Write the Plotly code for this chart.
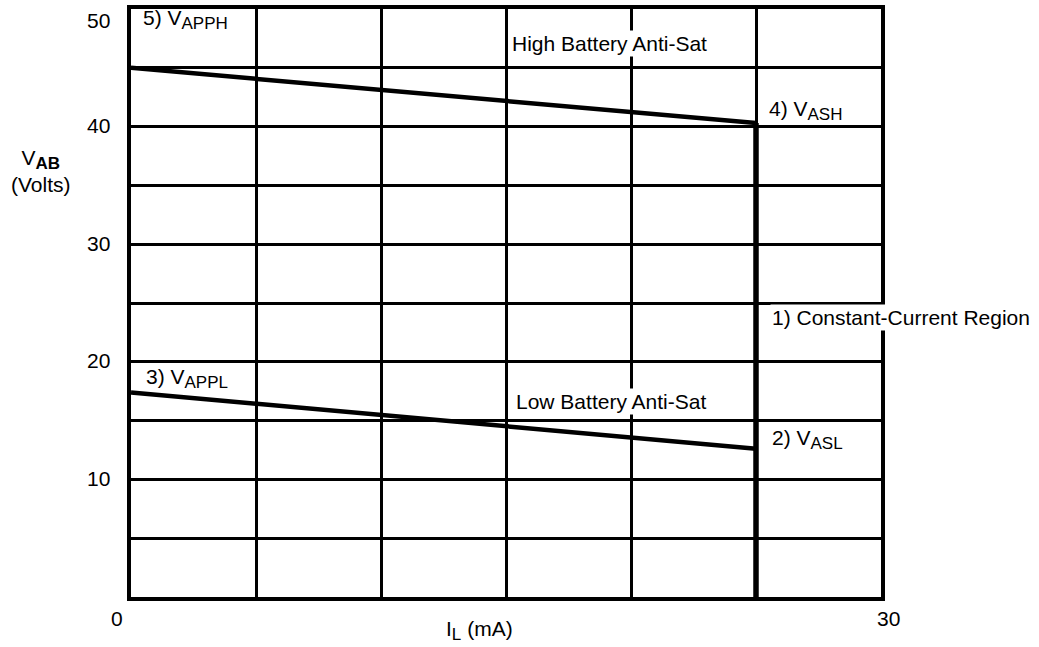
import plotly.graph_objects as go

# Data
x_ends = [0, 25]
high_anti_sat = [45, 40.3]
low_anti_sat = [17.4, 12.6]
cc_x = [25, 25]
cc_y = [-0.3, 40.3]
y_tick_vals = [10, 20, 30, 40, 50]
x_tick_vals = [0, 30]

FONT = "Liberation Sans, Arial, sans-serif"
FS = 21


def sub(s, bold=False):
    inner = f"<b>{s}</b>" if bold else s
    return f"<sub><span style='font-size:17px'>{inner}</span></sub>"


fig = go.Figure()
fig.add_trace(go.Scatter(x=x_ends, y=high_anti_sat, mode="lines",
                         line=dict(color="black", width=4.5), hoverinfo="skip", cliponaxis=False))
fig.add_trace(go.Scatter(x=x_ends, y=low_anti_sat, mode="lines",
                         line=dict(color="black", width=4.5), hoverinfo="skip", cliponaxis=False))
fig.add_trace(go.Scatter(x=cc_x, y=cc_y, mode="lines",
                         line=dict(color="black", width=5.5), hoverinfo="skip", cliponaxis=False))

ann = []
def txt(x, y, s, bg=None, xanchor="left"):
    d = dict(x=x, y=y, xref="x", yref="y", text=s, showarrow=False, xanchor=xanchor,
             yanchor="middle", font=dict(family=FONT, size=FS, color="black"))
    if bg:
        d["bgcolor"] = bg
        d["borderpad"] = 1
    ann.append(d)

txt(0.4, 49.1, "5) V" + sub("APPH"))
txt(15.15, 47.1, "High Battery Anti-Sat", bg="white")
txt(25.45, 41.4, "4) V" + sub("ASH"))
txt(25.55, 23.8, "1) Constant-Current Region", bg="white")
txt(0.5, 18.6, "3) V" + sub("APPL"))
txt(15.3, 16.6, "Low Battery Anti-Sat", bg="white")
txt(25.55, 13.4, "2) V" + sub("ASL"))

for v in y_tick_vals:
    ann.append(dict(x=0, y=v, xref="x", yref="y", text=str(v), showarrow=False,
                    xanchor="right", yanchor="middle", xshift=-19,
                    yshift=-11 if v == 50 else 1,
                    font=dict(family=FONT, size=FS, color="black")))
for v in x_tick_vals:
    ann.append(dict(x=v, y=0, xref="x", yref="paper", text=str(v), showarrow=False,
                    xanchor="center", yanchor="middle", xshift=-14 if v == 0 else 7,
                    yshift=-21, font=dict(family=FONT, size=FS, color="black")))

ann.append(dict(x=15, y=0, xref="x", yref="paper", text="I" + sub("L") + " (mA)", showarrow=False,
                xanchor="center", yanchor="middle", xshift=-27, yshift=-33,
                font=dict(family=FONT, size=FS, color="black")))
ann.append(dict(x=0, y=0.725, xref="paper", yref="paper", text="V" + sub("AB", bold=True) + "<br>(Volts)",
                showarrow=False, xanchor="center", yanchor="middle", xshift=-90,
                font=dict(family=FONT, size=FS, color="black")))

fig.update_layout(
    width=1039, height=647,
    margin=dict(l=131, r=158, t=5, b=50),
    paper_bgcolor="white", plot_bgcolor="white",
    showlegend=False,
    annotations=ann,
    xaxis=dict(range=[0, 30], dtick=5, tick0=0, showgrid=True, gridcolor="black", gridwidth=3,
               showticklabels=False, ticks="", zeroline=False,
               showline=True, linecolor="black", linewidth=4, mirror=True, fixedrange=True),
    yaxis=dict(range=[0, 50], dtick=5, tick0=0, showgrid=True, gridcolor="black", gridwidth=3,
               showticklabels=False, ticks="", zeroline=False,
               showline=True, linecolor="black", linewidth=4, mirror=True, fixedrange=True),
)

fig.write_html("out.html", config={"displayModeBar": False},
               post_script="document.body.style.margin='0';document.body.style.overflow='hidden';")
